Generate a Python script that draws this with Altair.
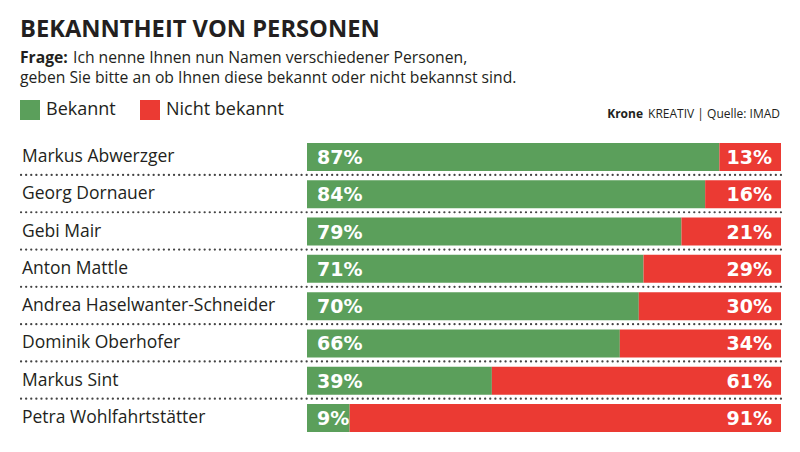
import altair as alt
import pandas as pd

names = ["Markus Abwerzger", "Georg Dornauer", "Gebi Mair", "Anton Mattle",
         "Andrea Haselwanter-Schneider", "Dominik Oberhofer", "Markus Sint",
         "Petra Wohlfahrtstätter"]
known = [87, 84, 79, 71, 70, 66, 39, 9]
unknown = [13, 16, 21, 29, 30, 34, 61, 91]
categories = ["Bekannt", "Nicht bekannt"]
colors = ["#5b9f5b", "#eb3a33"]

title = "BEKANNTHEIT VON PERSONEN"
sub_bold = "Frage:"
sub1 = "Ich nenne Ihnen nun Namen verschiedener Personen,"
sub2 = "geben Sie bitte an ob Ihnen diese bekannt oder nicht bekannst sind."
src_bold = "Krone"
src_rest = "KREATIV | Quelle: IMAD"

rows = []
for n, k, u in zip(names, known, unknown):
    rows.append({"name": n, "cat": categories[0], "start": 0, "end": k, "val": k, "label": f"{k}%"})
    rows.append({"name": n, "cat": categories[1], "start": k, "end": k + u, "val": u, "label": f"{u}%"})
df = pd.DataFrame(rows)
sep_df = pd.DataFrame({"name": names[:-1]})
name_df = pd.DataFrame({"name": names})

FONT = "Open Sans"
TXT = "#231f20"

yscale = alt.Scale(domain=names, range=[135, 424], paddingInner=0.25, paddingOuter=0)
xscale = alt.Scale(domain=[0, 100], range=[299, 773])

base = alt.Chart(df)

bars = base.mark_bar(cornerRadius=0).encode(
    x=alt.X("start:Q", scale=xscale, axis=None),
    x2="end:Q",
    y=alt.Y("name:N", scale=yscale, axis=None, sort=names),
    color=alt.Color("cat:N", scale=alt.Scale(domain=categories, range=colors),
                    legend=alt.Legend(orient="none", legendX=12, legendY=92, direction="horizontal",
                                      title=None, symbolType="square", symbolSize=400,
                                      symbolStrokeWidth=0, symbolOpacity=1,
                                      labelFont=FONT, labelFontSize=18, labelColor=TXT,
                                      labelOffset=6, columnPadding=24)),
)

lab_known = base.transform_filter(alt.datum.cat == "Bekannt").mark_text(
    align="left", baseline="middle", dx=10, dy=1, font="DejaVu Sans", fontWeight="bold",
    fontSize=19, color="white"
).encode(x=alt.X("start:Q", scale=xscale), y=alt.Y("name:N", scale=yscale, sort=names), text="label:N")

lab_unknown = base.transform_filter(alt.datum.cat == "Nicht bekannt").mark_text(
    align="right", baseline="middle", dx=-9, dy=1, font="DejaVu Sans", fontWeight="bold",
    fontSize=19, color="white"
).encode(x=alt.X("end:Q", scale=xscale), y=alt.Y("name:N", scale=yscale, sort=names), text="label:N")

seps = alt.Chart(sep_df).mark_rule(
    color="#444444", strokeWidth=2.2, strokeDash=[0.1, 5], strokeCap="round", yOffset=4
).encode(
    y=alt.Y("name:N", scale=yscale, sort=names, bandPosition=1),
    x=alt.value(13), x2=alt.value(773),
)

name_text = alt.Chart(name_df).mark_text(
    align="left", baseline="middle", font=FONT, fontSize=17.5, color=TXT
).encode(x=alt.value(14), y=alt.Y("name:N", scale=yscale, sort=names), text="name:N")

def label(txt, x, y, size, weight="normal", align="left"):
    return alt.Chart(pd.DataFrame({"t": [txt]})).mark_text(
        align=align, baseline="alphabetic", font=FONT, fontSize=size, fontWeight=weight, color=TXT
    ).encode(x=alt.value(x), y=alt.value(y), text="t:N")

texts = (
    label(title, 12, 29, 23.7, "bold")
    + label(sub_bold, 12, 55, 15.7, "bold")
    + label(sub1, 65, 55, 15.7)
    + label(sub2, 12, 75, 15.7)
    + label(src_bold, 635, 110, 12, "bold", align="right")
    + label(src_rest, 772, 110, 12, align="right")
)

chart = alt.layer(bars, lab_known, lab_unknown, seps, name_text, texts).properties(
    width=784, height=436, autosize=alt.AutoSizeParams(type="none"), padding=0,
    background="white"
).configure_view(stroke=None)

chart.save("out.html", embed_options={"renderer": "svg", "actions": False})
